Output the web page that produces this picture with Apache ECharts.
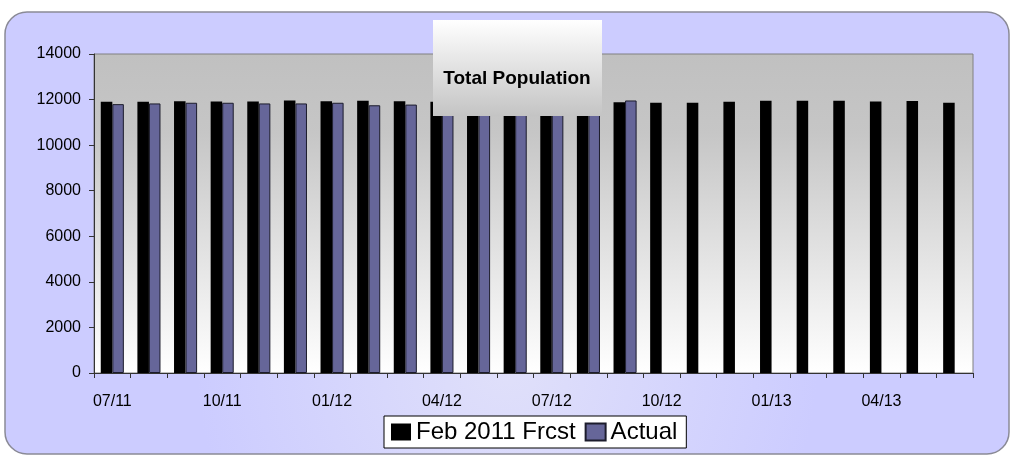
<!DOCTYPE html>
<html>
<head>
<meta charset="utf-8">
<script src="https://cdn.jsdelivr.net/npm/echarts@6/dist/echarts.min.js"></script>
<style>
html,body{margin:0;padding:0;background:#fff;}
#c{width:1014px;height:457px;}
</style>
</head>
<body>
<div id="c"></div>
<script>
var months = ['07/11','08/11','09/11','10/11','11/11','12/11','01/12','02/12','03/12','04/12','05/12','06/12',
              '07/12','08/12','09/12','10/12','11/12','12/12','01/13','02/13','03/13','04/13','05/13','06/13'];
var forecast = [11900,11900,11930,11910,11920,11960,11930,11950,11930,11900,11900,11900,
                11900,11900,11880,11865,11865,11905,11950,11950,11950,11920,11935,11865];
var actual = [11800,11830,11860,11860,11830,11830,11860,11750,11780,11780,11800,11800,
              11800,11800,11960,null,null,null,null,null,null,null,null,null];
var yTicks = [0,2000,4000,6000,8000,10000,12000,14000];

var FONT = 'Liberation Sans, Arial, sans-serif';
var chart = echarts.init(document.getElementById('c'), null, {renderer:'canvas'});
chart.setOption({
  animation:false,
  textStyle:{fontFamily:FONT},
  graphic:[
    {type:'rect', z:-10, silent:true,
     shape:{x:5,y:12,width:1004,height:442,r:22},
     style:{fill:new echarts.graphic.RadialGradient(0.5,0.8,0.7,[{offset:0,color:'#e0e0fa'},{offset:1,color:'#ccccff'}]),
            stroke:'#8a8a96',lineWidth:1.5}},
    {type:'rect', z:50, silent:true,
     shape:{x:433,y:20,width:169,height:96},
     style:{fill:new echarts.graphic.LinearGradient(0,0,0,1,[{offset:0,color:'#ffffff'},{offset:1,color:'#c4c4c4'}])}}
  ],
  title:{
    text:'Total Population', left:517, top:69, textAlign:'center', padding:0, z:60,
    textStyle:{fontFamily:FONT,fontWeight:'bold',fontSize:19,color:'#000'}
  },
  legend:{
    left:384, top:416, padding:[4,9,4,7], itemGap:9, itemWidth:20, itemHeight:17,
    backgroundColor:'#fff', borderColor:'#000', borderWidth:1, selectedMode:false,
    textStyle:{fontFamily:FONT,fontSize:24,color:'#000'},
    data:[{name:'Feb 2011 Frcst',icon:'rect'},{name:'Actual',icon:'rect'}]
  },
  grid:{
    left:94, right:41, top:54, bottom:84, show:true,
    backgroundColor:new echarts.graphic.LinearGradient(0,0,0,1,[{offset:0,color:'#c0c0c0'},{offset:0.25,color:'#c6c6c6'},{offset:1,color:'#ffffff'}]),
    borderColor:'#808080', borderWidth:1
  },
  xAxis:{
    type:'category', data:months, boundaryGap:true,
    axisLine:{lineStyle:{color:'#333',width:1}},
    axisTick:{show:true, interval:0, length:5, alignWithLabel:false, lineStyle:{color:'#333'}},
    axisLabel:{interval:2, margin:21, fontSize:16, color:'#000', fontFamily:FONT}
  },
  yAxis:{
    type:'value', min:0, max:14000, interval:2000,
    axisLine:{show:true, lineStyle:{color:'#333',width:1}},
    axisTick:{show:true, length:5, lineStyle:{color:'#333'}},
    splitLine:{show:false},
    axisLabel:{margin:13, fontSize:16, color:'#000', fontFamily:FONT,
      formatter:function(v){return yTicks.indexOf(v)>=0?String(v):'';}}
  },
  series:[
    {name:'Feb 2011 Frcst', type:'bar', data:forecast, barGap:'0%', barCategoryGap:'37%', z:2,
     itemStyle:{color:'#000000'}},
    {name:'Actual', type:'bar', data:actual, z:2,
     itemStyle:{color:'#666699', borderColor:'#1c1c2c', borderWidth:1}}
  ]
});
</script>
</body>
</html>
